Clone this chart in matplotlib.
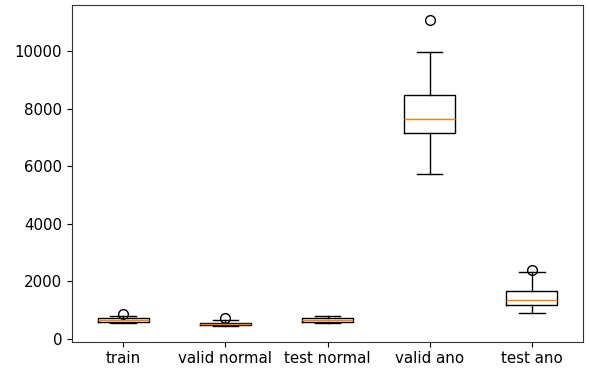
import matplotlib
matplotlib.use('Agg')
import matplotlib.pyplot as plt

# values
labels = ['train', 'valid normal', 'test normal', 'valid ano', 'test ano']
whis_lo = [560, 440, 560, 5720, 890]
q1 = [600, 470, 600, 7170, 1190]
median = [660, 520, 660, 7660, 1350]
q3 = [720, 560, 720, 8500, 1680]
whis_hi = [800, 650, 800, 9980, 2330]
fliers = [[850], [720], [], [11100], [2400]]

stats = []
for i in range(len(labels)):
    stats.append({'label': labels[i], 'whislo': whis_lo[i], 'q1': q1[i],
                  'med': median[i], 'q3': q3[i], 'whishi': whis_hi[i],
                  'fliers': fliers[i]})

plt.rcParams['font.size'] = 10.8

fig = plt.figure(figsize=(5.9, 3.71), dpi=100)
ax = fig.add_axes([72 / 590, 29.5 / 371, 511 / 590, 337 / 371])
ax.bxp(stats, flierprops={'markersize': 7})

for s in ax.spines.values():
    s.set_color('#333333')

plt.savefig('out.png')
